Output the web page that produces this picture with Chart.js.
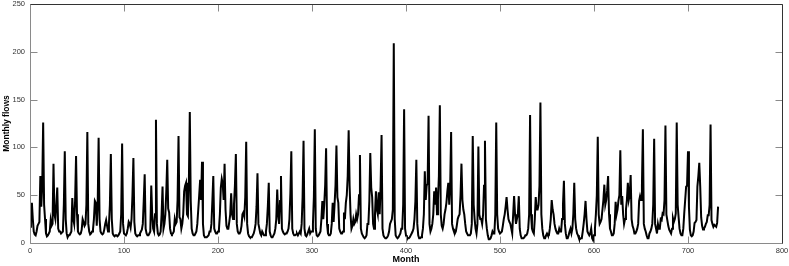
<!DOCTYPE html>
<html>
<head>
<meta charset="utf-8">
<script src="https://cdn.jsdelivr.net/npm/chart.js@4/dist/chart.umd.min.js"></script>
<style>
html, body { margin: 0; padding: 0; background: #fff; }
</style>
</head>
<body>
<canvas id="myChart" width="789" height="266"></canvas>
<script>
// monthly flows, one row per year (12 months)
const flows = [
  17, 30, 42, 25, 12, 9, 8, 12, 18, 20, 22, 70,
  38, 60, 126, 40, 25, 10, 7, 8, 10, 12, 24, 18,
  20, 83, 30, 25, 40, 58, 15, 12, 12, 10, 10, 12,
  40, 96, 25, 10, 6, 8, 8, 10, 12, 47, 25, 20,
  45, 91, 30, 12, 10, 9, 10, 14, 25, 22, 18, 20,
  40, 116, 20, 12, 9, 10, 12, 14, 25, 44, 42, 18,
  40, 110, 25, 12, 10, 9, 10, 14, 20, 24, 18, 12,
  20, 40, 93, 25, 10, 8, 7, 8, 8, 7, 8, 10,
  12, 30, 104, 20, 10, 9, 8, 10, 15, 22, 20, 16,
  25, 50, 89, 22, 10, 8, 7, 8, 8, 10, 12, 14,
  20, 44, 72, 15, 10, 8, 8, 10, 12, 60, 30, 15,
  12, 30, 129, 20, 10, 8, 9, 12, 30, 59, 15, 20,
  30, 54, 87, 36, 32, 15, 10, 9, 10, 12, 25, 20,
  22, 45, 112, 27, 25, 15, 20, 30, 54, 60, 63, 30,
  28, 64, 137, 44, 15, 10, 8, 8, 10, 12, 20, 35,
  50, 66, 45, 85, 20, 8, 6, 6, 6, 7, 8, 12,
  12, 20, 44, 70, 15, 12, 10, 10, 12, 14, 30, 58,
  67, 62, 45, 83, 35, 18, 15, 15, 22, 30, 52, 30,
  25, 40, 60, 93, 20, 12, 10, 10, 12, 18, 30, 32,
  28, 48, 106, 20, 10, 7, 6, 6, 6, 8, 10, 14,
  20, 38, 73, 20, 15, 10, 8, 12, 10, 8, 8, 12,
  20, 38, 63, 12, 8, 6, 6, 8, 10, 15, 25, 56,
  30, 20, 44, 70, 15, 12, 10, 9, 10, 10, 12, 15,
  25, 52, 96, 15, 10, 8, 8, 9, 10, 8, 10, 12,
  10, 20, 48, 107, 15, 8, 7, 9, 12, 15, 10, 12,
  12, 20, 48, 119, 15, 8, 7, 8, 10, 12, 25, 44,
  25, 40, 60, 99, 20, 10, 8, 8, 10, 20, 42, 22,
  40, 60, 102, 48, 42, 15, 12, 10, 10, 12, 32, 25,
  42, 50, 70, 118, 60, 30, 15, 18, 25, 20, 22, 30,
  25, 30, 50, 92, 15, 10, 8, 6, 5, 6, 8, 20,
  20, 44, 94, 58, 48, 20, 15, 30, 54, 35, 30, 53,
  30, 60, 113, 15, 8, 6, 5, 5, 6, 8, 12, 20,
  20, 25, 35, 209, 25, 8, 6, 5, 6, 8, 10, 15,
  15, 40, 140, 15, 8, 6, 5, 5, 6, 8, 10, 12,
  15, 25, 44, 87, 20, 8, 5, 5, 6, 8, 15, 30,
  75, 45, 60, 62, 133, 20, 12, 15, 20, 30, 54, 40,
  58, 30, 45, 70, 144, 30, 18, 15, 20, 30, 35, 42,
  54, 63, 40, 60, 116, 20, 15, 12, 10, 12, 18, 25,
  28, 30, 50, 83, 45, 35, 30, 20, 12, 10, 8, 8,
  8, 10, 20, 112, 40, 25, 15, 10, 20, 101, 30, 25,
  25, 20, 30, 60, 107, 25, 15, 8, 4, 4, 5, 8,
  12, 10, 10, 30, 126, 30, 15, 12, 10, 10, 12, 18,
  25, 30, 38, 48, 35, 25, 22, 20, 15, 10, 30, 49,
  30, 20, 25, 30, 49, 15, 8, 5, 5, 5, 6, 8,
  8, 10, 15, 30, 134, 30, 15, 12, 10, 25, 48, 35,
  35, 40, 60, 147, 30, 15, 8, 5, 5, 8, 10, 8,
  8, 15, 25, 45, 35, 30, 20, 15, 12, 10, 10, 15,
  12, 12, 25, 40, 65, 20, 10, 5, 5, 8, 12, 15,
  10, 15, 30, 63, 25, 15, 10, 8, 5, 4, 5, 5,
  12, 20, 30, 44, 25, 12, 10, 8, 10, 15, 5, 3,
  8, 15, 30, 50, 111, 30, 20, 22, 25, 35, 45, 61,
  40, 45, 55, 70, 30, 15, 12, 8, 8, 10, 20, 43,
  30, 35, 44, 50, 97, 40, 49, 30, 20, 25, 35, 45,
  63, 45, 50, 71, 25, 18, 15, 10, 10, 12, 15, 20,
  44, 49, 45, 60, 119, 20, 15, 12, 8, 5, 5, 10,
  12, 15, 20, 40, 109, 20, 15, 10, 20, 15, 15, 25,
  24, 31, 30, 45, 123, 30, 24, 18, 14, 12, 10, 15,
  26, 22, 25, 31, 126, 40, 27, 15, 10, 8, 8, 15,
  31, 45, 59, 60, 96, 38, 14, 8, 7, 8, 12, 21,
  22, 24, 59, 70, 84, 59, 27, 18, 14, 15, 17, 20,
  22, 29, 29, 40, 124, 24, 20, 17, 19, 18, 17, 21, 38
]
const months = flows.map((v, i) => i)
const xTicks = [0, 100, 200, 300, 400, 500, 600, 700, 800]
const yTicks = [0, 50, 100, 150, 200, 250]
const xTitle = "Month"
const yTitle = "Monthly flows"

const FONT = "'Liberation Sans', Arial, Helvetica, sans-serif"

// matlab style box with inward ticks on all four sides
const boxTicks = {
  id: 'boxTicks',
  afterDraw(chart) {
    const ctx = chart.ctx
    const a = chart.chartArea
    const x = chart.scales.x, y = chart.scales.y
    const L = Math.round(a.left) + 0.5, R = Math.round(a.right) + 0.5
    const T = Math.round(a.top) + 0.5, B = Math.round(a.bottom) + 0.5
    ctx.save()
    ctx.lineWidth = 1
    ctx.strokeStyle = '#8a8a8a'
    ctx.beginPath()
    xTicks.forEach(v => {
      const px = Math.round(x.getPixelForValue(v)) + 0.5
      ctx.moveTo(px, B); ctx.lineTo(px, B - 7)
      ctx.moveTo(px, T); ctx.lineTo(px, T + 7)
    })
    yTicks.forEach(v => {
      const py = Math.round(y.getPixelForValue(v)) + 0.5
      ctx.moveTo(L, py); ctx.lineTo(L + 7, py)
      ctx.moveTo(R, py); ctx.lineTo(R - 7, py)
    })
    // left and bottom spines
    ctx.moveTo(L, T); ctx.lineTo(L, B); ctx.lineTo(R, B)
    ctx.stroke()
    // top and right spines
    ctx.strokeStyle = '#333'
    ctx.beginPath()
    ctx.moveTo(L, T); ctx.lineTo(R, T); ctx.lineTo(R, B)
    ctx.stroke()
    ctx.restore()
  }
}

function noPad(s) {
  s.paddingLeft = 0; s.paddingRight = 0; s.paddingTop = 0; s.paddingBottom = 0
}

var ctx = document.getElementById('myChart').getContext('2d')
var chart = new Chart(ctx, {
  type: 'line',
  data: {
    datasets: [{
      data: months.map((m, i) => ({ x: m, y: flows[i] })),
      borderColor: '#000',
      borderWidth: 2,
      pointRadius: 0,
      tension: 0,
      fill: false
    }]
  },
  options: {
    responsive: false,
    animation: false,
    layout: { padding: { top: 4, right: 7, left: 0, bottom: 0 } },
    plugins: { legend: { display: false }, tooltip: { enabled: false } },
    scales: {
      x: {
        type: 'linear',
        min: 0, max: 800,
        grid: { display: false, drawTicks: false },
        border: { display: false },
        afterBuildTicks: s => { s.ticks = xTicks.map(v => ({ value: v })) },
        afterFit: s => { s.height = 23; noPad(s) },
        ticks: { color: '#333', font: { family: FONT, size: 7.5 }, padding: 3, maxRotation: 0, autoSkip: false },
        title: { display: true, text: xTitle, color: '#000', font: { family: FONT, size: 9, weight: 'bold' }, padding: { top: 0, bottom: 1 } }
      },
      y: {
        min: 0, max: 250,
        grid: { display: false, drawTicks: false },
        border: { display: false },
        afterBuildTicks: s => { s.ticks = yTicks.map(v => ({ value: v })) },
        afterFit: s => { s.width = 30; noPad(s) },
        ticks: { color: '#333', font: { family: FONT, size: 7.5 }, padding: 5 },
        title: { display: true, text: yTitle, color: '#000', font: { family: FONT, size: 8.5, weight: 'bold' }, padding: { top: 2, bottom: 0 } }
      }
    }
  },
  plugins: [boxTicks]
})
</script>
</body>
</html>
